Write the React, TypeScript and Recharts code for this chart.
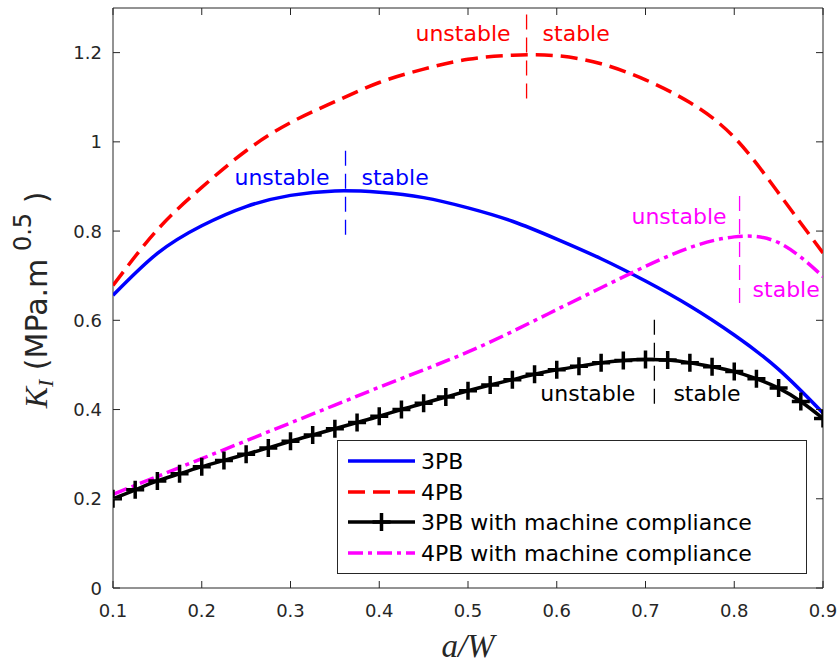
import React from 'react';
import { ComposedChart, Line, XAxis, YAxis, ReferenceLine, ReferenceDot, ReferenceArea } from 'recharts';

// crack length ratio a/W and K_I values
const aW = [0.1, 0.15, 0.2, 0.25, 0.3, 0.35, 0.4, 0.45, 0.5, 0.55, 0.6, 0.65, 0.7, 0.75, 0.8, 0.85, 0.9];
const k3PB = [0.656, 0.75, 0.812, 0.855, 0.88, 0.89, 0.887, 0.875, 0.852, 0.822, 0.782, 0.738, 0.688, 0.632, 0.567, 0.49, 0.392];
const k4PB = [0.678, 0.803, 0.898, 0.98, 1.043, 1.09, 1.133, 1.163, 1.185, 1.194, 1.193, 1.175, 1.139, 1.088, 1.01, 0.885, 0.751];
const k4PBmc = [0.21, 0.25, 0.29, 0.33, 0.37, 0.41, 0.45, 0.489, 0.529, 0.575, 0.624, 0.673, 0.721, 0.763, 0.787, 0.774, 0.698];

const aWfine = [0.1, 0.125, 0.15, 0.175, 0.2, 0.225, 0.25, 0.275, 0.3, 0.325, 0.35, 0.375, 0.4, 0.425, 0.45, 0.475, 0.5, 0.525, 0.55, 0.575, 0.6, 0.625, 0.65, 0.675, 0.7, 0.725, 0.75, 0.775, 0.8, 0.825, 0.85, 0.875, 0.9];
const k3PBmc = [0.2, 0.22, 0.24, 0.256, 0.272, 0.286, 0.3, 0.314, 0.329, 0.343, 0.357, 0.371, 0.385, 0.4, 0.414, 0.428, 0.442, 0.455, 0.467, 0.479, 0.489, 0.497, 0.505, 0.51, 0.512, 0.511, 0.505, 0.496, 0.485, 0.469, 0.448, 0.418, 0.38];

// stable/unstable markers, order: 3PB, 4PB, 3PB mc, 4PB mc
const stabX = [0.362, 0.566, 0.71, 0.806];
const stabLo = [0.792, 1.097, 0.413, 0.639];
const stabHi = [0.99, 1.292, 0.612, 0.887];
const unstableY = [0.92, 1.243, 0.437, 0.832];
const stableY = [0.92, 1.243, 0.437, 0.668];
const labelGap = [16, 16, 19, 13];
const annotColor = ['#0000ff', '#ff0000', '#000000', '#ff00ff'];

const xTicks = [0.1, 0.2, 0.3, 0.4, 0.5, 0.6, 0.7, 0.8, 0.9];
const xTickLabels = ['0.1', '0.2', '0.3', '0.4', '0.5', '0.6', '0.7', '0.8', '0.9'];
const yTicks = [0, 0.2, 0.4, 0.6, 0.8, 1, 1.2];
const yTickLabels = ['0', '0.2', '0.4', '0.6', '0.8', '1', '1.2'];

const legendNames = ['3PB', '4PB', '3PB with machine compliance', '4PB with machine compliance'];

const W = 838;
const H = 663;
const margin = { top: 8, right: 15, bottom: 0, left: 0 };
const yAxisW = 113;
const xAxisH = 75;
const plotL = margin.left + yAxisW;
const plotR = W - margin.right;
const plotT = margin.top;
const plotB = H - xAxisH;

const axisColor = '#262626';
const sans = '"DejaVu Sans", sans-serif';
const serif = '"Liberation Serif", "DejaVu Serif", serif';

const toRows = (xs: number[], ys: number[]) => xs.map((x, i) => ({ x, k: ys[i] }));

const XTick = (props: any) => {
    const { x, payload } = props;
    const i = xTicks.indexOf(payload.value);
    return (
        <g>
            <line x1={x} x2={x} y1={plotB} y2={plotB - 7} stroke={axisColor} />
            <line x1={x} x2={x} y1={plotT} y2={plotT + 7} stroke={axisColor} />
            <text x={x} y={plotB + 22} textAnchor="middle" dominantBaseline="central" fontSize={18} fontFamily={sans} fill={axisColor}>
                {i >= 0 ? xTickLabels[i] : payload.value}
            </text>
        </g>
    );
};

const YTick = (props: any) => {
    const { y, payload } = props;
    const i = yTicks.indexOf(payload.value);
    return (
        <g>
            <line x1={plotL} x2={plotL + 7} y1={y} y2={y} stroke={axisColor} />
            <line x1={plotR - 7} x2={plotR} y1={y} y2={y} stroke={axisColor} />
            <text x={plotL - 11} y={y} textAnchor="end" dominantBaseline="central" fontSize={18} fontFamily={sans} fill={axisColor}>
                {i >= 0 ? yTickLabels[i] : payload.value}
            </text>
        </g>
    );
};

const yLabel = () => (
    <text transform={`translate(47, 300) rotate(-90)`} textAnchor="middle" fill={axisColor}>
        <tspan fontFamily={serif} fontStyle="italic" fontSize={32}>K</tspan>
        <tspan fontFamily={serif} fontStyle="italic" fontSize={22} dy={6}>I</tspan>
        <tspan fontFamily={sans} fontSize={30} dy={-6}> (MPa.m</tspan>
        <tspan fontFamily={sans} fontSize={24} dy={-16}> 0.5</tspan>
        <tspan fontFamily={sans} fontSize={30} dy={16}> )</tspan>
    </text>
);

const xLabel = () => (
    <text x={(plotL + plotR) / 2} y={657} textAnchor="middle" fontFamily={serif} fontStyle="italic" fontSize={33} fill={axisColor}>
        a/W
    </text>
);

const plusDot = (p: any) => {
    const { cx, cy, index } = p;
    return <path key={`p${index}`} d={`M${cx - 9},${cy}h18M${cx},${cy - 9}v18`} stroke="#000" strokeWidth={3.5} fill="none" />;
};

const annotText = (text: string, color: string, side: 'left' | 'right', gap: number) => (p: any) => (
    <text
        x={side === 'left' ? p.cx - gap : p.cx + gap}
        y={p.cy}
        textAnchor={side === 'left' ? 'end' : 'start'}
        dominantBaseline="central"
        fontSize={22}
        fontFamily={sans}
        fill={color}
    >
        {text}
    </text>
);

function LegendBox() {
    const rowY = [20, 51, 81, 112];
    const styles = [
        { stroke: '#0000ff', dash: undefined },
        { stroke: '#ff0000', dash: '17 8' },
        { stroke: '#000000', dash: undefined },
        { stroke: '#ff00ff', dash: '15 5 4 5' },
    ];
    return (
        <div style={{ position: 'absolute', left: 337, top: 440, width: 470, height: 134, boxSizing: 'border-box', border: `1px solid ${axisColor}`, background: '#fff' }}>
            <svg width={468} height={132} style={{ display: 'block' }}>
                {legendNames.map((name, i) => (
                    <g key={name}>
                        <line x1={10} x2={77} y1={rowY[i]} y2={rowY[i]} stroke={styles[i].stroke} strokeWidth={3.5} strokeDasharray={styles[i].dash} />
                        {i === 2 && <path d={`M${43.5 - 9},${rowY[i]}h18M43.5,${rowY[i] - 9}v18`} stroke="#000" strokeWidth={3.5} />}
                        <text x={83} y={rowY[i]} dominantBaseline="central" fontSize={22} fontFamily={sans} fill="#000">
                            {name}
                        </text>
                    </g>
                ))}
            </svg>
        </div>
    );
}

export default function App() {
    return (
        <div style={{ position: 'absolute', left: 0, top: 0, width: W, height: H, background: '#fff' }}>
            <ComposedChart width={W} height={H} margin={margin}>
                <XAxis
                    type="number"
                    dataKey="x"
                    domain={[0.1, 0.9]}
                    ticks={xTicks}
                    interval={0}
                    height={xAxisH}
                    axisLine={false}
                    tickLine={false}
                    tick={<XTick />}
                    label={xLabel}
                    allowDataOverflow
                />
                <YAxis
                    type="number"
                    domain={[0, 1.3]}
                    ticks={yTicks}
                    interval={0}
                    width={yAxisW}
                    axisLine={false}
                    tickLine={false}
                    tick={<YTick />}
                    label={yLabel}
                    allowDataOverflow
                />
                <ReferenceArea x1={0.1} x2={0.9} y1={0} y2={1.3} fill="none" stroke={axisColor} strokeWidth={1} ifOverflow="visible" />
                <Line data={toRows(aW, k3PB)} dataKey="k" type="natural" stroke="#0000ff" strokeWidth={3.5} dot={false} isAnimationActive={false} />
                <Line data={toRows(aW, k4PB)} dataKey="k" type="natural" stroke="#ff0000" strokeWidth={3.5} strokeDasharray="17 8" dot={false} isAnimationActive={false} />
                <Line data={toRows(aWfine, k3PBmc)} dataKey="k" type="natural" stroke="#000000" strokeWidth={3.5} dot={plusDot} isAnimationActive={false} />
                <Line data={toRows(aW, k4PBmc)} dataKey="k" type="natural" stroke="#ff00ff" strokeWidth={3.5} strokeDasharray="15 5 4 5" dot={false} isAnimationActive={false} />
                {stabX.map((x, i) => (
                    <ReferenceLine
                        key={`sl${i}`}
                        segment={[{ x, y: stabLo[i] }, { x, y: stabHi[i] }]}
                        stroke={annotColor[i]}
                        strokeWidth={1.3}
                        strokeDasharray="15 8"
                        ifOverflow="visible"
                    />
                ))}
                {stabX.map((x, i) => (
                    <ReferenceDot key={`u${i}`} x={x} y={unstableY[i]} r={0} ifOverflow="visible" shape={annotText('unstable', annotColor[i], 'left', labelGap[i])} />
                ))}
                {stabX.map((x, i) => (
                    <ReferenceDot key={`s${i}`} x={x} y={stableY[i]} r={0} ifOverflow="visible" shape={annotText('stable', annotColor[i], 'right', labelGap[i])} />
                ))}
            </ComposedChart>
            <LegendBox />
        </div>
    );
}
